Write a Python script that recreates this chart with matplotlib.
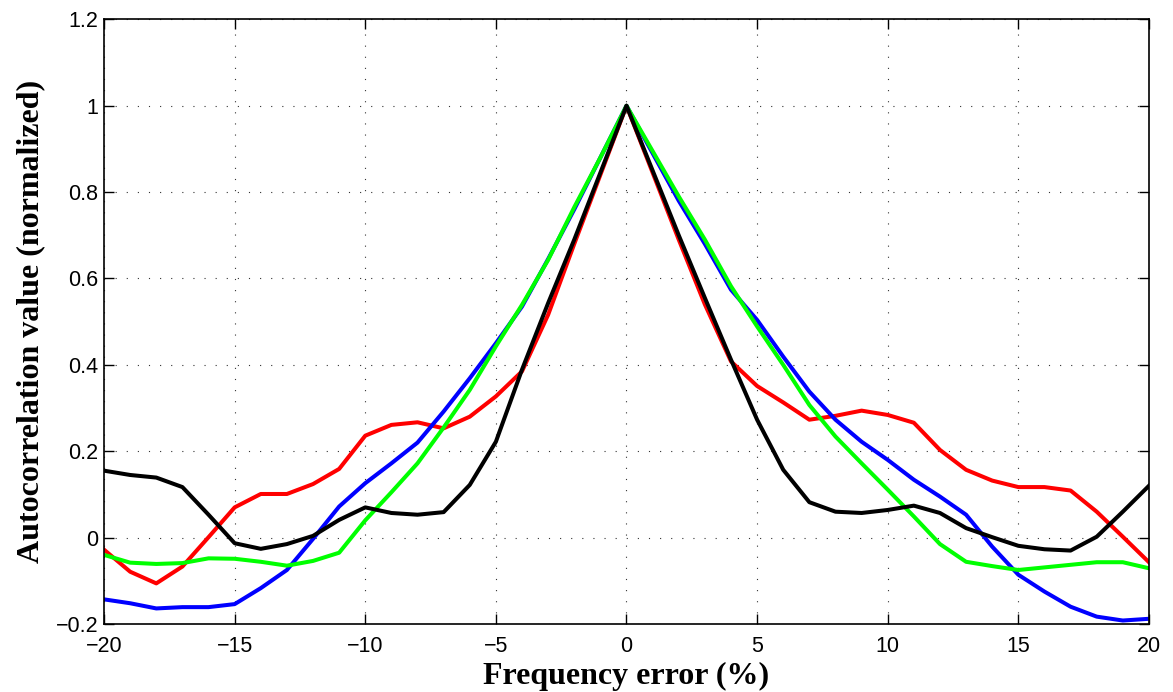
import numpy as np
import matplotlib.pyplot as plt

# frequency error axis (%)
freq_err = np.arange(-20, 21)

# autocorrelation curves (normalized)
red = [-0.028, -0.079, -0.106, -0.067, 0.001, 0.070, 0.101, 0.101, 0.124, 0.159,
       0.236, 0.261, 0.267, 0.253, 0.280, 0.327, 0.385, 0.516, 0.68, 0.84,
       1.0,
       0.845, 0.69, 0.54, 0.408, 0.351, 0.313, 0.273, 0.282, 0.294,
       0.284, 0.266, 0.203, 0.157, 0.132, 0.117, 0.117, 0.109, 0.060, 0.002, -0.057]
blue = [-0.143, -0.152, -0.164, -0.161, -0.161, -0.154, -0.117, -0.075, -0.003, 0.072,
        0.126, 0.172, 0.220, 0.292, 0.369, 0.450, 0.535, 0.645, 0.76, 0.88,
        1.0,
        0.89, 0.78, 0.68, 0.574, 0.504, 0.419, 0.338, 0.273, 0.222,
        0.180, 0.134, 0.095, 0.053, -0.021, -0.086, -0.125, -0.160, -0.183, -0.192, -0.188]
green = [-0.040, -0.058, -0.061, -0.059, -0.048, -0.049, -0.056, -0.065, -0.054, -0.035,
         0.040, 0.105, 0.172, 0.255, 0.342, 0.443, 0.539, 0.643, 0.765, 0.88,
         1.0,
         0.895, 0.79, 0.69, 0.582, 0.489, 0.400, 0.307, 0.234, 0.172,
         0.111, 0.049, -0.015, -0.056, -0.066, -0.075, -0.069, -0.063, -0.057, -0.057, -0.071]
black = [0.155, 0.145, 0.139, 0.117, 0.053, -0.013, -0.026, -0.015, 0.004, 0.041,
         0.070, 0.057, 0.053, 0.059, 0.122, 0.222, 0.389, 0.543, 0.69, 0.845,
         1.0,
         0.85, 0.70, 0.555, 0.412, 0.273, 0.157, 0.082, 0.060, 0.057,
         0.064, 0.074, 0.057, 0.022, 0.001, -0.019, -0.027, -0.030, 0.002, 0.060, 0.120]

fig = plt.figure(figsize=(11.73, 6.92), dpi=100)
ax = fig.add_axes([0.0887, 0.0983, 0.8908, 0.8737])

ax.plot(freq_err, red, color='#ff0000', lw=2.9)
ax.plot(freq_err, blue, color='#0000ff', lw=2.9)
ax.plot(freq_err, green, color='#00ff00', lw=2.9)
ax.plot(freq_err, black, color='#000000', lw=2.9)

ax.set_xlim(-20, 20)
ax.set_ylim(-0.2, 1.2)
ax.set_xticks(np.arange(-20, 21, 5))
ax.set_yticks(np.arange(-0.2, 1.21, 0.2))
ax.set_yticklabels(['\u22120.2', '0', '0.2', '0.4', '0.6', '0.8', '1', '1.2'])
ax.set_xticklabels(['\u221220', '\u221215', '\u221210', '\u22125', '0', '5', '10', '15', '20'])

ax.grid(True, linestyle=(0, (1, 9)), color='#333333', lw=0.8)
ax.tick_params(direction='in', top=True, right=True, length=7, width=1,
               labelsize=15.5)
ax.tick_params(axis='x', pad=9)
ax.tick_params(axis='y', pad=4)
for lab in ax.get_xticklabels() + ax.get_yticklabels():
    lab.set_family('Liberation Sans')
for s in ax.spines.values():
    s.set_linewidth(1.2)

ax.set_xlabel('Frequency error (%)', family='Liberation Serif', weight='bold',
              fontsize=23, labelpad=3)
ax.set_ylabel('Autocorrelation value (normalized)', family='Liberation Serif',
              weight='bold', fontsize=23, labelpad=8)

fig.savefig('out.png', dpi=100)
